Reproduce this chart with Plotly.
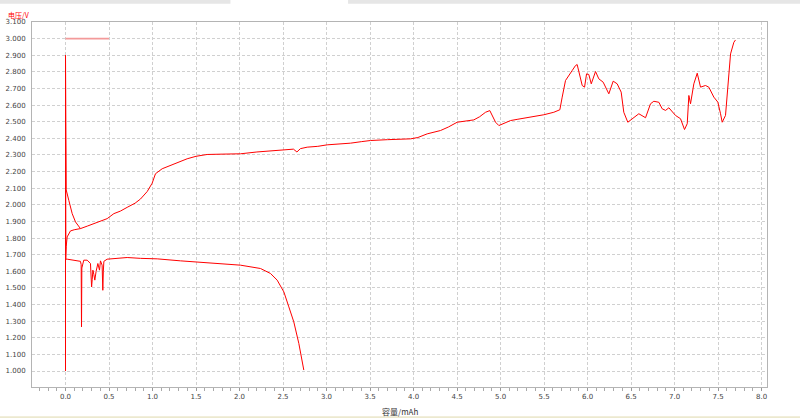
import plotly.graph_objects as go

# ---- data (capacity mAh, voltage V) ----
charge_x = [0.0, 0.0, 0.008, 0.019, 0.057, 0.10, 0.172, 0.25, 0.326, 0.40, 0.479, 0.556, 0.63, 0.709,
            0.80, 0.862, 0.939, 0.996, 1.034, 1.111, 1.245, 1.398, 1.50, 1.628, 1.80, 2.011, 2.20,
            2.394, 2.55, 2.62, 2.66, 2.70, 2.778, 2.90, 3.008, 3.15, 3.276, 3.40, 3.506, 3.70, 3.85,
            3.966, 4.05, 4.157, 4.31, 4.40, 4.502, 4.60, 4.693, 4.76, 4.828, 4.877, 4.904, 4.943,
            4.981, 5.05, 5.115, 5.20, 5.307, 5.40, 5.498, 5.613, 5.682, 5.709, 5.747, 5.824, 5.862,
            5.881, 5.9, 5.939, 5.966, 5.989, 6.015, 6.043, 6.092, 6.13, 6.18, 6.245, 6.295, 6.341,
            6.387, 6.417, 6.463, 6.513, 6.59, 6.667, 6.724, 6.762, 6.82, 6.858, 6.897, 6.935, 7.011,
            7.069, 7.115, 7.146, 7.165, 7.184, 7.222, 7.261, 7.299, 7.356, 7.394, 7.452, 7.498,
            7.529, 7.548, 7.586, 7.613, 7.644, 7.682, 7.701]
charge_y = [1.68, 1.70, 1.75, 1.807, 1.843, 1.850, 1.857, 1.872, 1.887, 1.900, 1.917, 1.947, 1.962, 1.985,
            2.01, 2.035, 2.08, 2.13, 2.187, 2.217, 2.247, 2.277, 2.292, 2.303, 2.305, 2.307, 2.318,
            2.327, 2.331, 2.335, 2.318, 2.338, 2.347, 2.352, 2.361, 2.366, 2.371, 2.380, 2.387, 2.392, 2.395,
            2.397, 2.405, 2.427, 2.447, 2.468, 2.497, 2.505, 2.511, 2.530, 2.557, 2.567, 2.538, 2.497,
            2.477, 2.492, 2.507, 2.515, 2.524, 2.532, 2.542, 2.557, 2.572, 2.648, 2.748, 2.808, 2.838,
            2.844, 2.808, 2.718, 2.708, 2.788, 2.784, 2.728, 2.802, 2.758, 2.738, 2.668, 2.744, 2.728,
            2.678, 2.557, 2.497, 2.518, 2.548, 2.524, 2.608, 2.623, 2.617, 2.578, 2.568, 2.584, 2.538,
            2.518, 2.453, 2.488, 2.658, 2.608, 2.728, 2.792, 2.708, 2.718, 2.708, 2.648, 2.618,
            2.548, 2.497, 2.538, 2.688, 2.908, 2.978, 2.992]

discharge_x = [0.0, 0.0, 0.005, 0.02, 0.10, 0.172, 0.180, 0.184, 0.188, 0.21, 0.249, 0.287, 0.300, 0.307,
               0.315, 0.326, 0.337, 0.352, 0.372, 0.391, 0.402, 0.421, 0.429, 0.435, 0.441, 0.479,
               0.594, 0.709, 0.862, 0.977, 1.054, 1.322, 1.475, 1.75, 2.011, 2.241, 2.356, 2.433,
               2.51, 2.567, 2.624, 2.682, 2.739]
discharge_y = [2.5, 1.68, 1.673, 1.673, 1.667, 1.66, 1.64, 1.266, 1.62, 1.667, 1.667, 1.647, 1.506, 1.55,
               1.607, 1.58, 1.547, 1.60, 1.647, 1.607, 1.663, 1.637, 1.486, 1.60, 1.66, 1.673,
               1.68, 1.683, 1.678, 1.677, 1.675, 1.663, 1.657, 1.648, 1.637, 1.617, 1.587, 1.547,
               1.476, 1.386, 1.296, 1.166, 1.006]

rest_x = [0.0, 0.0, 0.0, 0.008, 0.038, 0.077, 0.115, 0.153, 0.172]
rest_y = [1.0, 2.9, 2.107, 2.09, 2.027, 1.947, 1.897, 1.865, 1.857]

cutoff_x = [0.0, 0.5]
cutoff_y = [3.0, 3.0]

x_tick_vals = [0.0, 0.5, 1.0, 1.5, 2.0, 2.5, 3.0, 3.5, 4.0, 4.5, 5.0, 5.5, 6.0, 6.5, 7.0, 7.5, 8.0]

RED = "#ff0000"

fig = go.Figure()
fig.add_trace(go.Scatter(x=cutoff_x, y=cutoff_y, mode="lines",
                         line=dict(color="#f39a9a", width=1.6), hoverinfo="skip"))
fig.add_trace(go.Scatter(x=rest_x, y=rest_y, mode="lines",
                         line=dict(color=RED, width=1), hoverinfo="skip"))
fig.add_trace(go.Scatter(x=discharge_x, y=discharge_y, mode="lines",
                         line=dict(color=RED, width=1), hoverinfo="skip"))
fig.add_trace(go.Scatter(x=charge_x, y=charge_y, mode="lines",
                         line=dict(color=RED, width=1), hoverinfo="skip"))

fig.update_layout(
    width=800, height=418,
    margin=dict(l=32, r=33, t=22, b=31, autoexpand=False),
    paper_bgcolor="white", plot_bgcolor="white",
    showlegend=False,
    font=dict(family="DejaVu Sans", size=7, color="#333333"),
)

fig.update_xaxes(
    automargin=False,
    range=[-0.385, 8.063],
    tickmode="array", tickvals=x_tick_vals,
    ticktext=[f"{v:.1f}" for v in x_tick_vals],
    ticks="outside", ticklen=3, tickcolor="#999999",
    minor=dict(dtick=0.1, tick0=0, ticks="outside", ticklen=3, tickcolor="#aaaaaa", showgrid=False),
    showgrid=True, gridcolor="#d0d0d0", griddash="3px,2px", gridwidth=1,
    showline=True, linecolor="#b4b4b4", linewidth=1, mirror=True,
    zeroline=False,
    tickfont=dict(size=7, color="#444444"),
)
fig.update_yaxes(
    automargin=False,
    range=[0.904, 3.1],
    tick0=1.0, dtick=0.1, tickformat=".3f",
    ticks="", ticklabelstandoff=4,
    showgrid=True, gridcolor="#d0d0d0", griddash="3px,2px", gridwidth=1,
    showline=True, linecolor="#b4b4b4", linewidth=1, mirror=True,
    zeroline=False,
    tickfont=dict(size=7, color="#444444"),
)

fig.add_annotation(text="容量/mAh", xref="paper", yref="paper", x=0.5, y=-0.047,
                   xanchor="center", yanchor="top", showarrow=False,
                   font=dict(family="Noto Sans CJK SC", size=8, color="#333333"))
fig.add_annotation(text="电压/V", xref="paper", yref="paper", x=-0.035, y=1.0,
                   xanchor="left", yanchor="bottom", showarrow=False,
                   font=dict(family="Noto Sans CJK SC", size=7, color="#ff0000"))

# window chrome bits (top tab strip and bottom status bar)
fig.add_shape(type="rect", xref="paper", yref="paper", x0=-0.05, x1=0.27, y0=1.05, y1=1.07,
              fillcolor="#e6e6e6", line=dict(width=0), layer="below")
fig.add_shape(type="rect", xref="paper", yref="paper", x0=0.43, x1=1.06, y0=1.05, y1=1.07,
              fillcolor="#e6e6e6", line=dict(width=0), layer="below")
fig.add_shape(type="rect", xref="paper", yref="paper", x0=-0.05, x1=1.06, y0=-0.087, y1=-0.08,
              fillcolor="#ece9cf", line=dict(width=0), layer="below")

fig.write_html("out.html", config={"displayModeBar": False},
               post_script="document.body.style.margin='0';document.body.style.overflow='hidden';")
